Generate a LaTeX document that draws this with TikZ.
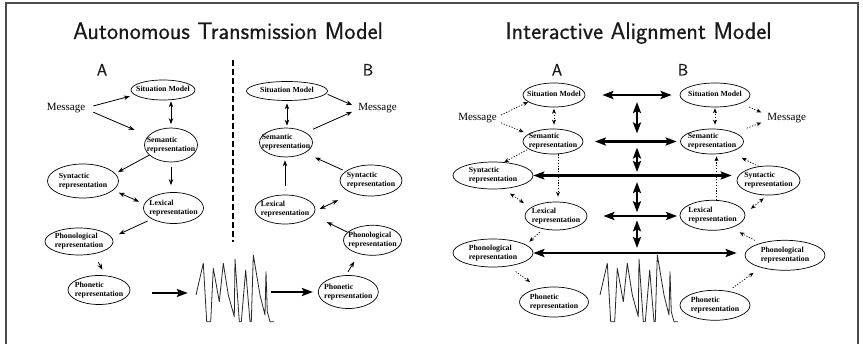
\documentclass[tikz,border=0pt]{standalone}
\usepackage{fontspec}
\setmainfont{Liberation Serif}
\newfontfamily\headfont[FakeBold=0.5]{Latin Modern Sans}
\usetikzlibrary{shapes.geometric,arrows.meta}

% text of a box: a left-aligned block that takes no room, so the ellipse keeps the size it is given
\newcommand{\boxtext}[1]{\makebox[0pt]{\raisebox{-2pt}[0pt][0pt]{\fontsize{7.8}{9}\selectfont\bfseries\begin{tabular}{@{}l@{}}#1\end{tabular}}}}

\tikzset{
  ell/.style={ellipse, draw, line width=0.7pt, inner sep=0pt},
  msg/.style={inner xsep=5pt, inner ysep=3pt, font=\fontsize{11}{13}\selectfont},
  ttl/.style={anchor=base, font=\headfont\fontsize{23.8}{28}\selectfont, text=black!90},
  side/.style={anchor=base, font=\headfont\fontsize{16.5}{19}\selectfont, text=black!90},
  sarr/.style={line width=0.8pt, -{Stealth[length=6pt,width=4.5pt]}},
  sarrb/.style={line width=0.8pt, {Stealth[length=6pt,width=4.5pt]}-{Stealth[length=6pt,width=4.5pt]}},
  darr/.style={line width=0.7pt, dash pattern=on 1.2pt off 1.6pt, -{Stealth[length=5pt,width=4pt]}},
  darrb/.style={line width=0.7pt, dash pattern=on 1.2pt off 1.6pt, {Stealth[length=5pt,width=4pt]}-{Stealth[length=5pt,width=4pt]}},
  barr/.style={line width=2pt, -{Stealth[length=11pt,width=8pt,inset=2pt]}},
  barrb/.style={line width=2.2pt, {Stealth[length=11pt,width=8pt,inset=2pt]}-{Stealth[length=11pt,width=8pt,inset=2pt]}},
  wave/.style={line width=0.8pt, black!85, line join=round},
}

\newcommand{\wavepath}{(196,295) -- (198.3,285) -- (203.3,263.3) -- (206.7,321.7) -- (210.7,321.7) -- (213.3,268.3) -- (219.3,301.7) -- (223.3,263.3) -- (228.3,295) -- (234.3,316.7) -- (235,259) -- (239.3,321.7) -- (241.3,321.7) -- (245.7,270) -- (250,321.7) -- (251.3,321.7) -- (253.3,255) -- (260,295) -- (265,315) -- (266,271.7) -- (267.3,311.7) -- (270,321.7) -- (274,321.7)}

\begin{document}
\begin{tikzpicture}[x=1pt, y=-1pt]
\useasboundingbox (0,0) rectangle (863,344);
\fill[white] (0,0) rectangle (863,344);
\draw[line width=1.3pt, black!70] (6,3) rectangle (858,360);

% ---------------- titles ----------------
\node[ttl] (ttlL) at (228,39) {Autonomous Transmission Model};
\node[ttl] (ttlR) at (638.5,39) {Interactive Alignment Model};
\node[side] (sideA) at (102,75.5) {A};
\node[side] (sideB) at (368,75.5) {B};
\node[side] (sideA2) at (557,75.5) {A};
\node[side] (sideB2) at (683,75.5) {B};

% divider between the two speakers
\draw[line width=2.6pt, dash pattern=on 6pt off 3pt] (233,60) -- (233,242);

% ---------------- autonomous transmission: speaker A ----------------
\node[msg] (msgA) at (66,108) {Message};
\node[ell, minimum width=64, minimum height=20] (sitA) at (163,90) {\boxtext{Situation Model}};
\node[ell, minimum width=53, minimum height=34] (semA) at (171,145) {\boxtext{Semantic\\representation}};
\node[ell, minimum width=71, minimum height=34] (synA) at (83,181) {\boxtext{Syntactic\\representation}};
\node[ell, minimum width=60, minimum height=31] (lexA) at (173.5,208) {\boxtext{Lexical\\representation}};
\node[ell, minimum width=68, minimum height=27] (phonA) at (79,241.5) {\boxtext{Phonological\\representation}};
\node[ell, minimum width=62, minimum height=29] (phtA) at (99,290) {\boxtext{Phonetic\\representation}};

% ---------------- autonomous transmission: speaker B ----------------
\node[msg] (msgB) at (377.5,108) {Message};
\node[ell, minimum width=81, minimum height=19] (sitB) at (287,91) {\boxtext{Situation Model}};
\node[ell, minimum width=53, minimum height=29] (semB) at (286,142.5) {\boxtext{Semantic\\representation}};
\node[ell, minimum width=62, minimum height=31] (synB) at (371,180.5) {\boxtext{Syntactic\\representation}};
\node[ell, minimum width=60, minimum height=29] (lexB) at (285,209.5) {\boxtext{Lexical\\representation}};
\node[ell, minimum width=58, minimum height=30] (phonB) at (372.5,240.3) {\boxtext{Phonological\\representation}};
\node[ell, minimum width=60, minimum height=33] (phtB) at (348.3,292) {\boxtext{Phonetic\\representation}};

% sound wave between the speakers
\node[inner sep=0pt, minimum width=76, minimum height=68] (waveA) at (234,288) {};
\draw[wave] \wavepath;

% production (A)
\draw[sarr, shorten <=3pt, shorten >=5pt] (msgA.3) -- (sitA.190);
\draw[sarr, shorten <=3pt, shorten >=15pt] (msgA.-7) -- (semA.158);
\draw[sarrb, shorten <=1pt, shorten >=3.5pt] (semA.north |- sitA.south) -- (semA.north);
\draw[sarr, shorten >=3pt] (semA.205) -- (synA.13);
\draw[sarr, shorten <=5pt, shorten >=7pt] (semA.south) -- (semA.south |- lexA.north);
\draw[sarrb, shorten <=6pt, shorten >=5.5pt] (synA.343) -- (lexA.172);
\draw[sarr, shorten <=4.5pt, shorten >=8pt] (lexA.207) -- (phonA.7);
\draw[sarr, shorten <=9.5pt, shorten >=6.5pt] (phonA.320) -- (phtA.66);
\draw[barr, shorten <=22pt, shorten >=8pt] ([yshift=-3pt]phtA.east) -- ([yshift=-3pt]phtA.east -| waveA.west);
\draw[barr, shorten <=-1pt, shorten >=5pt] (waveA.east |- phtB.west) -- (phtB.west);

% comprehension (B)
\draw[sarr, shorten <=4pt, shorten >=9pt] (phtB.98) -- (phonB.225);
\draw[sarr, shorten >=15.5pt] (phonB.162) -- (lexB.348);
\draw[sarrb, shorten <=5pt, shorten >=16pt] (lexB.357) -- (synB.215);
\draw[sarr, shorten <=3pt, shorten >=11pt] (synB.160) -- (semB.331);
\draw[sarr, shorten <=8.5pt, shorten >=3pt] (lexB.north) -- (lexB.north |- semB.south);
\draw[sarrb, shorten <=2.5pt, shorten >=2pt] (sitB.south) -- (sitB.south |- semB.north);
\draw[sarr, shorten <=1.5pt, shorten >=1pt] (sitB.356) -- (msgB.174);
\draw[sarr, shorten <=8pt, shorten >=1pt] (semB.27) -- (msgB.188);

% ---------------- interactive alignment: speaker A ----------------
\node[msg] (msgA2) at (477.5,118) {Message};
\node[ell, minimum width=62, minimum height=24] (sitA2) at (554,95) {\boxtext{Situation Model}};
\node[ell, minimum width=60, minimum height=25] (semA2) at (553,141.5) {\boxtext{Semantic\\representation}};
\node[ell, minimum width=80, minimum height=27] (synA2) at (493,175.5) {\boxtext{Syntactic\\representation}};
\node[ell, minimum width=62, minimum height=28] (lexA2) at (556,216) {\boxtext{Lexical\\representation}};
\node[ell, minimum width=80, minimum height=28] (phonA2) at (493,253) {\boxtext{Phonological\\representation}};
\node[ell, minimum width=69, minimum height=30] (phtA2) at (554,302) {\boxtext{Phonetic\\representation}};

% ---------------- interactive alignment: speaker B ----------------
\node[msg] (msgB2) at (786.7,118) {Message};
\node[ell, minimum width=70, minimum height=24] (sitB2) at (715,95) {\boxtext{Situation Model}};
\node[ell, minimum width=63, minimum height=25] (semB2) at (712,141.5) {\boxtext{Semantic\\representation}};
\node[ell, minimum width=63, minimum height=29] (synB2) at (768.5,180.5) {\boxtext{Syntactic\\representation}};
\node[ell, minimum width=65, minimum height=30] (lexB2) at (712.5,215.3) {\boxtext{Lexical\\representation}};
\node[ell, minimum width=80, minimum height=30] (phonB2) at (785,255.3) {\boxtext{Phonological\\representation}};
\node[ell, minimum width=70, minimum height=30] (phtB2) at (715,305.3) {\boxtext{Phonetic\\representation}};

\begin{scope}[shift={(404,0)}]
  \draw[wave] \wavepath;
\end{scope}

% within-speaker links (A)
\draw[darr, shorten <=-1pt] (msgA2.8) -- (sitA2.195);
\draw[darr, shorten <=-1pt, shorten >=5pt] (msgA2.-12) -- (semA2.163);
\draw[darrb, shorten <=1.5pt, shorten >=4pt] (sitA2.south) -- (sitA2.south |- semA2.north);
\draw[darr, shorten <=1.5pt] (semA2.197) -- (synA2.50);
\draw[darr, shorten >=5pt] ([xshift=5pt]semA2.south) -- ([xshift=5pt]semA2.south |- lexA2.north);
\draw[darrb, shorten <=8pt, shorten >=8pt] (synA2.308) -- (lexA2.162);
\draw[darr, shorten <=4.5pt, shorten >=4.5pt] (lexA2.225) -- (phonA2.14);
\draw[darr, shorten <=9pt, shorten >=10.5pt] (phonA2.319) -- (phtA2.138);

% within-speaker links (B)
\draw[darr, shorten <=5.5pt, shorten >=9pt] (phtB2.47) -- (phonB2.207);
\draw[darr, shorten <=6pt, shorten >=9.5pt] (phonB2.154) -- (lexB2.326);
\draw[darrb, shorten <=7.5pt, shorten >=4.5pt] (lexB2.3) -- (synB2.265);
\draw[darr, shorten >=13pt] (synB2.125) -- (semB2.330);
\draw[darr, shorten >=2pt] ([xshift=4pt]lexB2.north) -- ([xshift=4pt]lexB2.north |- semB2.south);
\draw[darrb, shorten <=1pt, shorten >=4pt] (sitB2.south) -- (sitB2.south |- semB2.north);
\draw[darr, shorten <=9pt, shorten >=1pt] (sitB2.342) -- (msgB2.168);
\draw[darr, shorten <=12.5pt, shorten >=1pt] (semB2.21) -- (msgB2.190);

% alignment channels between the speakers
\coordinate (axis) at (637,0);
\draw[barrb, shorten <=17pt, shorten >=8pt] (sitA2.east) -- (sitA2.east -| sitB2.west);
\draw[barrb, shorten <=11.5pt, shorten >=3.5pt] (semA2.east) -- (semA2.east -| semB2.west);
\draw[barrb, shorten >=5pt] (synA2.east) -- (synA2.east -| synB2.west);
\draw[barrb, shorten <=16pt, shorten >=2.5pt] (lexA2.east) -- (lexA2.east -| lexB2.west);
\draw[barrb, shorten >=8pt] (phonA2.east) -- (phonA2.east -| phonB2.west);
\draw[barrb, shorten <=7pt, shorten >=8pt] (axis |- sitB2) -- (axis |- semB2);
\draw[barrb, shorten <=6pt, shorten >=3.5pt] (axis |- semB2) -- (axis |- synA2);
\draw[barrb, shorten <=6.5pt, shorten >=3pt] (axis |- synA2) -- (axis |- lexB2);
\draw[barrb, shorten <=5pt, shorten >=5pt] (axis |- lexB2) -- (axis |- phonA2);
\end{tikzpicture}
\end{document}
